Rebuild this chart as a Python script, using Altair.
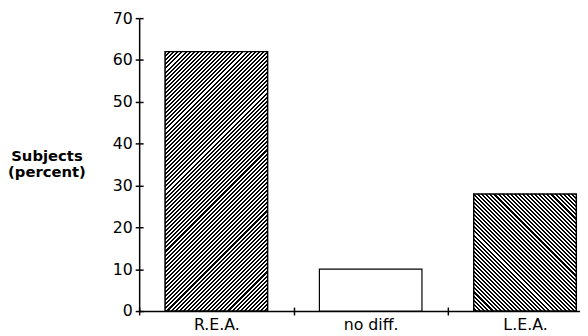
import altair as alt
import pandas as pd

# ---- data ----
categories = ["R.E.A.", "no diff.", "L.E.A."]
percent = [62, 10, 28]
y_ticks = [0, 10, 20, 30, 40, 50, 60, 70]

df = pd.DataFrame({"group": categories, "percent": percent})

# ---- layout / style ----
PLOT_W = 443
PLOT_H = 297
BAND_RANGE = 469.5
BAR_W = 104
Y_MAX = 70
PERIOD = 2.9
FONT = "DejaVu Sans"


def hatch(value, direction):
    w = BAR_W
    h = value * PLOT_H / Y_MAX
    r = h / w
    gx = (1 + r) / (1 + r * r)
    gy = r * gx
    n = max(1, round((w + h) / 2 ** 0.5 / PERIOD))
    stops = []
    for i in range(n):
        a = i / n
        b = (i + 0.5) / n
        c = (i + 1) / n
        stops += [
            {"offset": a, "color": "black"},
            {"offset": b, "color": "black"},
            {"offset": b, "color": "white"},
            {"offset": c, "color": "white"},
        ]
    if direction == "/":
        return {"gradient": "linear", "x1": 0, "y1": 0, "x2": gx, "y2": gy, "stops": stops}
    return {"gradient": "linear", "x1": 1, "y1": 0, "x2": 1 - gx, "y2": gy, "stops": stops}


def x_scale():
    return alt.Scale(domain=categories, range=[0, BAND_RANGE], paddingInner=0, paddingOuter=0)


def y_scale():
    return alt.Scale(domain=[0, Y_MAX], nice=False)


x_axis_main = alt.Axis(
    title=None, labelAngle=0, tickBand="extent", tickSize=4, tickWidth=1.5,
    domainWidth=1.5, labelPadding=2, labelFontSize=16, orient="bottom",
)
y_axis_main = alt.Axis(
    values=y_ticks, tickSize=4, tickWidth=1.5, domainWidth=1.5, labelPadding=3,
    labelFontSize=16, title=["Subjects", "(percent)"], titleAngle=0,
    titleX=-94, titleY=144, titleAlign="center", titleBaseline="alphabetic",
    titleFont=FONT, titleFontSize=15, titleFontWeight="bold", titleLineHeight=17,
    titleColor="black", orient="left",
)

# inner half of the crossing ticks: axes on the opposite sides moved onto the main axis lines
x_axis_in = alt.Axis(
    title=None, labels=False, domain=False, tickBand="extent", tickSize=4,
    tickWidth=1.5, offset=-PLOT_H, orient="top",
)
y_axis_in = alt.Axis(
    values=y_ticks, title=None, labels=False, domain=False, tickSize=4,
    tickWidth=1.5, offset=-PLOT_W, orient="right",
)

base = alt.Chart(df).encode(
    x=alt.X("group:N", sort=categories, scale=x_scale(), axis=x_axis_main),
    y=alt.Y("percent:Q", scale=y_scale(), axis=y_axis_main),
)

bar_rea = base.transform_filter(alt.datum.group == categories[0]).mark_bar(
    size=BAR_W, fill=hatch(percent[0], "/"), stroke="black", strokeWidth=1.5
)
bar_nd = base.transform_filter(alt.datum.group == categories[1]).mark_bar(
    size=BAR_W, fill="white", stroke="black", strokeWidth=1.2
)
bar_lea = base.transform_filter(alt.datum.group == categories[2]).mark_bar(
    size=BAR_W, fill=hatch(percent[2], "\\"), stroke="black", strokeWidth=1.5
)

bars = alt.layer(bar_rea, bar_nd, bar_lea)

inner_ticks = alt.Chart(df).mark_bar(opacity=0, size=BAR_W).encode(
    x=alt.X("group:N", sort=categories, scale=x_scale(), axis=x_axis_in),
    y=alt.Y("percent:Q", scale=y_scale(), axis=y_axis_in),
)

chart = (
    alt.layer(bars, inner_ticks)
    .resolve_scale(x="independent", y="independent")
    .resolve_axis(x="independent", y="independent")
    .properties(
        width=PLOT_W,
        height=PLOT_H,
        autosize=alt.AutoSizeParams(type="none"),
        padding={"left": 133, "top": 8, "right": 4, "bottom": 22},
    )
    .configure_view(stroke=None)
    .configure_axis(
        grid=False, labelFont=FONT, labelColor="black", domainColor="black",
        tickColor="black", titleFont=FONT,
    )
)

chart.save("out.html", embed_options={"renderer": "svg", "actions": False})
